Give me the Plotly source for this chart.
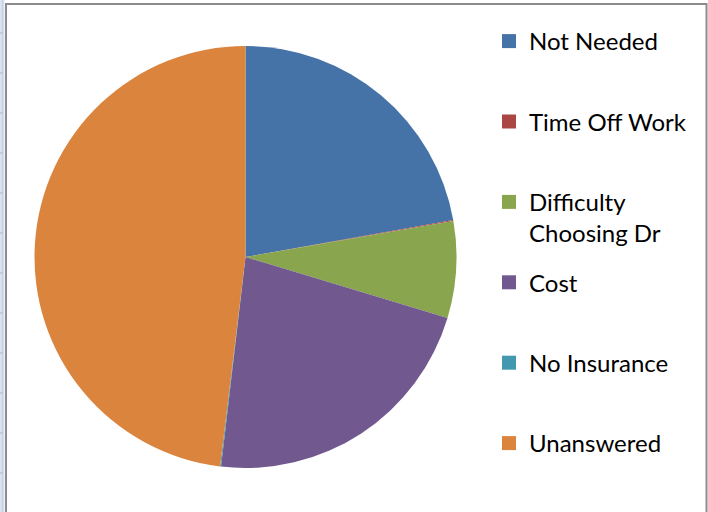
import plotly.graph_objects as go

# ---- data ----
categories = ["Not Needed", "Time Off Work", "Difficulty Choosing Dr", "Cost", "No Insurance", "Unanswered"]
legend_labels = ["Not Needed", "Time Off Work", "Difficulty<br>Choosing Dr", "Cost", "No Insurance", "Unanswered"]
values = [6, 0.02, 2, 6, 0.02, 13]
colors = ["#4572A7", "#AA4643", "#89A54E", "#71588F", "#4198AF", "#DB843D"]

W, H = 708, 512

def px(x):
    return x / W

def py(y):
    return 1 - y / H

fig = go.Figure()

fig.add_trace(go.Pie(
    labels=categories,
    values=values,
    sort=False,
    direction="clockwise",
    rotation=0,
    textinfo="none",
    hoverinfo="label+value+percent",
    marker=dict(colors=colors, line=dict(width=0)),
    showlegend=False,
    domain=dict(x=[px(34), px(457)], y=[py(468), py(46)]),
))

# legend entries (one per category)
for lab, col, cat in zip(legend_labels, colors, categories):
    text = lab if "<br>" in lab else lab + "<br>&nbsp;"
    fig.add_trace(go.Scatter(
        x=[None], y=[None], mode="markers", name=text,
        legendgroup=cat,
        marker=dict(symbol="square", size=14, color=col),
        hoverinfo="skip",
    ))

shapes = []
# left spreadsheet strip
shapes.append(dict(type="rect", xref="paper", yref="paper",
                   x0=0, x1=px(4.5), y0=0, y1=1,
                   fillcolor="#dde4f0", line=dict(width=0), layer="below"))
shapes.append(dict(type="line", xref="paper", yref="paper",
                   x0=px(2.5), x1=px(2.5), y0=0, y1=1,
                   line=dict(color="#c8d1e3", width=1.5)))
for k in range(13):
    yy = 33 + 40 * k
    shapes.append(dict(type="line", xref="paper", yref="paper",
                       x0=0, x1=px(3), y0=py(yy), y1=py(yy),
                       line=dict(color="#b8c4da", width=1.5)))
# chart frame
shapes.append(dict(type="rect", xref="paper", yref="paper",
                   x0=px(6), x1=px(706.5), y0=py(530), y1=py(4),
                   line=dict(color="#8c8c8c", width=2)))

fig.update_layout(
    width=W, height=H,
    margin=dict(l=0, r=0, t=0, b=0),
    paper_bgcolor="white",
    plot_bgcolor="white",
    xaxis=dict(visible=False),
    yaxis=dict(visible=False),
    shapes=shapes,
    legend=dict(
        x=px(489), xanchor="left",
        y=py(19), yanchor="top",
        valign="top",
        tracegroupgap=15,
        font=dict(family="Lato", size=24, color="#000000"),
        bgcolor="rgba(0,0,0,0)",
        itemclick=False, itemdoubleclick=False,
    ),
)

fig.write_html("out.html", config={"displayModeBar": False},
               post_script="document.body.style.margin='0';document.body.style.overflow='hidden';")
